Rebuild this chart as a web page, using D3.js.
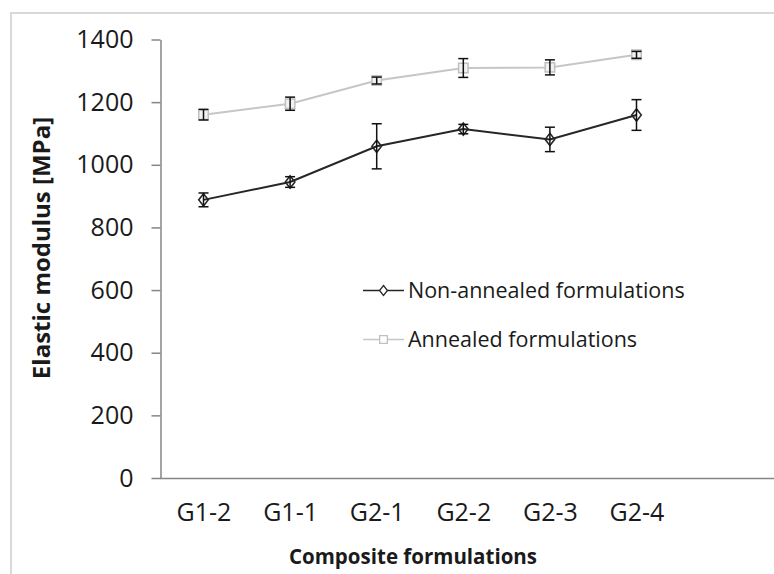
<!DOCTYPE html>
<html>
<head>
<meta charset="utf-8">
<script src="https://cdn.jsdelivr.net/npm/d3@7"></script>
<style>
  body { margin: 0; background: #fff; }
  svg { display: block; }
  text { font-family: "Open Sans", "Noto Sans", sans-serif; fill: #1a1a1a; }
</style>
</head>
<body>
<svg id="chart" width="774" height="574"></svg>
<script>
const categories = ['G1-2', 'G1-1', 'G2-1', 'G2-2', 'G2-3', 'G2-4'];
const nonAnnealed = [888, 945, 1059, 1114, 1081, 1159];
const nonAnnealedErr = [22, 17, 72, 15, 39, 49];
const annealed = [1160, 1195, 1269, 1309, 1311, 1351];
const annealedErr = [17, 21, 11, 30, 24, 11];
const yTicks = [0, 200, 400, 600, 800, 1000, 1200, 1400];

const svg = d3.select('#chart');

// outer chart border (only top and left are visible in the crop)
svg.append('path')
    .attr('d', 'M11,774 V13 H774')
    .attr('fill', 'none')
    .attr('stroke', '#d9d9d9')
    .attr('stroke-width', 2);

const x = d3.scalePoint()
    .domain(categories)
    .range([203.5, 636.5]);

const y = d3.scaleLinear()
    .domain([0, 1400])
    .range([478, 39.5]);

// y axis
const yAxis = svg.append('g')
    .attr('transform', 'translate(160.5,0)')
    .call(d3.axisLeft(y).tickValues(yTicks).tickFormat(d3.format('d'))
        .tickSize(9).tickSizeOuter(0).tickPadding(18));
yAxis.select('.domain').attr('stroke', '#868686').attr('stroke-width', 1.5);
yAxis.selectAll('.tick line').attr('stroke', '#868686').attr('stroke-width', 1.5);
yAxis.selectAll('.tick text')
    .attr('font-size', 25)
    .style('font-family', '"Open Sans", sans-serif')
    .attr('fill', '#1a1a1a');

// x axis: line runs across the whole visible plot
svg.append('line')
    .attr('x1', 160).attr('x2', 774)
    .attr('y1', 478.5).attr('y2', 478.5)
    .attr('stroke', '#868686')
    .attr('stroke-width', 1.5);

const xAxis = svg.append('g')
    .attr('transform', 'translate(0,478.5)')
    .call(d3.axisBottom(x).tickSize(0).tickPadding(25));
xAxis.select('.domain').remove();
xAxis.selectAll('.tick text')
    .attr('font-size', 25)
    .style('font-family', '"Open Sans", sans-serif')
    .attr('fill', '#1a1a1a');

// axis titles
svg.append('text')
    .attr('x', 413).attr('y', 564)
    .attr('text-anchor', 'middle')
    .attr('font-size', 20.5)
    .attr('font-weight', 'bold')
    .attr('fill', '#000')
    .text('Composite formulations');

svg.append('text')
    .attr('transform', 'translate(50,248) rotate(-90)')
    .attr('text-anchor', 'middle')
    .attr('font-size', 24)
    .attr('font-weight', 'bold')
    .attr('fill', '#000')
    .text('Elastic modulus [MPa]');

const line = d3.line()
    .x((d, i) => x(categories[i]))
    .y(d => y(d));

function drawSeries(values, errs, opts) {
    const g = svg.append('g');
    g.append('path')
        .datum(values)
        .attr('d', line)
        .attr('fill', 'none')
        .attr('stroke', opts.color)
        .attr('stroke-width', opts.width);

    // markers
    const sym = d3.symbol().type(opts.symbol).size(opts.symbolSize);
    g.selectAll('.mk')
        .data(values)
        .join('path')
        .attr('transform', (d, i) => `translate(${x(categories[i])},${y(d)})${opts.symbol === d3.symbolDiamond ? ' scale(1.15,0.85)' : ''}`)
        .attr('d', sym)
        .attr('fill', opts.fill)
        .attr('stroke', opts.markerStroke)
        .attr('stroke-width', 1.5);

    // error bars
    const eb = g.selectAll('.eb')
        .data(values)
        .join('g')
        .attr('transform', (d, i) => `translate(${x(categories[i])},0)`);
    eb.append('line')
        .attr('y1', (d, i) => y(d - errs[i]))
        .attr('y2', (d, i) => y(d + errs[i]))
        .attr('stroke', '#111')
        .attr('stroke-width', 1.5);
    eb.append('line')
        .attr('x1', -5).attr('x2', 5)
        .attr('y1', (d, i) => y(d + errs[i]))
        .attr('y2', (d, i) => y(d + errs[i]))
        .attr('stroke', '#111')
        .attr('stroke-width', 1.5);
    eb.append('line')
        .attr('x1', -5).attr('x2', 5)
        .attr('y1', (d, i) => y(d - errs[i]))
        .attr('y2', (d, i) => y(d - errs[i]))
        .attr('stroke', '#111')
        .attr('stroke-width', 1.5);
}

const annealedStyle = {
    color: '#c6c6c6', width: 2, symbol: d3.symbolSquare, symbolSize: 90,
    fill: '#f2f2f2', markerStroke: '#c0c0c0'
};
const nonAnnealedStyle = {
    color: '#262626', width: 2, symbol: d3.symbolDiamond, symbolSize: 60,
    fill: 'none', markerStroke: '#262626'
};

drawSeries(annealed, annealedErr, annealedStyle);
drawSeries(nonAnnealed, nonAnnealedErr, nonAnnealedStyle);

// legend
const legendItems = [
    { label: 'Non-annealed formulations', style: nonAnnealedStyle, y: 290.5 },
    { label: 'Annealed formulations', style: annealedStyle, y: 339.5 }
];
const lg = svg.append('g').selectAll('g')
    .data(legendItems)
    .join('g')
    .attr('transform', d => `translate(0,${d.y})`);
lg.append('line')
    .attr('x1', 363).attr('x2', 404)
    .attr('stroke', d => d.style.color)
    .attr('stroke-width', 1.5);
lg.append('path')
    .attr('transform', d => `translate(383.5,0)${d.style.symbol === d3.symbolDiamond ? ' scale(1.15,0.85)' : ''}`)
    .attr('d', d => d3.symbol().type(d.style.symbol).size(d.style.symbol === d3.symbolDiamond ? 40 : 60)())
    .attr('fill', '#fff')
    .attr('stroke', d => d.style.markerStroke)
    .attr('stroke-width', 1.3);
lg.append('text')
    .attr('x', 408)
    .attr('dy', '0.35em')
    .attr('font-size', 21.5)
    .text(d => d.label);
</script>
</body>
</html>
